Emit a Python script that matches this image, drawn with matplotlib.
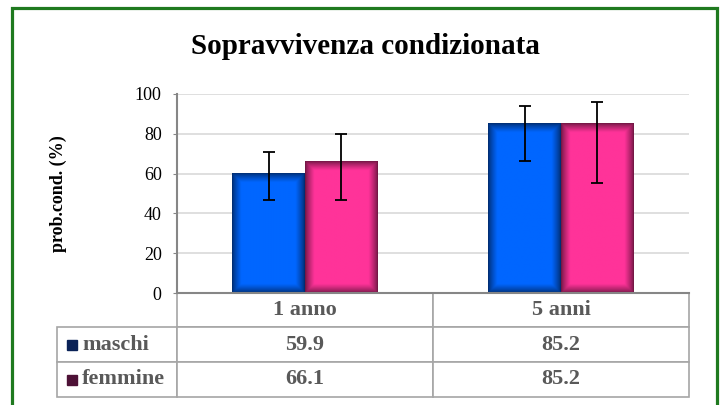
import numpy as np
import matplotlib.pyplot as plt
from matplotlib.patches import Rectangle
from matplotlib.table import Table

plt.rcParams['font.family'] = ['Liberation Serif', 'DejaVu Serif']

categories = ['1 anno', '5 anni']
series = ['maschi', 'femmine']
maschi = [59.9, 85.2]
femmine = [66.1, 85.2]
# limiti delle barre d'errore
maschi_low = [46.7, 66.4]
maschi_high = [70.9, 93.8]
femmine_low = [46.7, 55.3]
femmine_high = [79.9, 95.8]

bar_colors = ['#0066FF', '#FF3399']
legend_colors = ['#0A2257', '#4D1136']
text_gray = '#595959'
line_gray = '#A6A6A6'


def shade_bar(ax, rect, color):
    """Riempie la barra con un gradiente scuro ai bordi."""
    x0, y0 = rect.get_x(), rect.get_y()
    w, h = rect.get_width(), rect.get_height()
    u = np.linspace(0, 1, 80)
    v = np.linspace(0, 1, 300)
    U, V = np.meshgrid(u, v)
    dx = np.minimum(U, 1 - U) * w * 256
    dy = np.minimum(V, 1 - V) * h * 1.99
    d = np.minimum(dx, dy)
    f = 0.45 + 0.55 * np.clip(d / 9.0, 0, 1) ** 0.8
    base = np.array(plt.matplotlib.colors.to_rgb(color))
    img = base[None, None, :] * f[:, :, None]
    ax.imshow(img, origin='lower', extent=[x0, x0 + w, y0, y0 + h],
              aspect='auto', interpolation='bilinear', zorder=2)
    rect.set_visible(False)


fig = plt.figure(figsize=(7.24, 4.05), dpi=100)
ax = fig.add_axes([177 / 724, 1 - 293 / 405, 512 / 724, 199 / 405])

x = np.arange(len(categories))
width = 0.285

bars1 = ax.bar(x - width / 2, maschi, width=width, color=bar_colors[0])
bars2 = ax.bar(x + width / 2, femmine, width=width, color=bar_colors[1])
for rect in bars1:
    shade_bar(ax, rect, bar_colors[0])
for rect in bars2:
    shade_bar(ax, rect, bar_colors[1])

err1 = [np.subtract(maschi, maschi_low), np.subtract(maschi_high, maschi)]
err2 = [np.subtract(femmine, femmine_low), np.subtract(femmine_high, femmine)]
ax.errorbar(x - width / 2, maschi, yerr=err1, fmt='none', ecolor='black',
            elinewidth=1.3, capsize=4, capthick=1.3, zorder=3)
ax.errorbar(x + width / 2, femmine, yerr=err2, fmt='none', ecolor='black',
            elinewidth=1.3, capsize=4, capthick=1.3, zorder=3)

ax.set_xlim(-0.5, 1.5)
ax.set_ylim(0, 100)
ax.set_yticks(np.arange(0, 101, 20))
ax.set_xticks([])
ax.yaxis.grid(True, color='#D9D9D9', lw=1.2)
ax.set_axisbelow(True)
for s in ['top', 'right']:
    ax.spines[s].set_visible(False)
for s in ['left', 'bottom']:
    ax.spines[s].set_color('#868686')
    ax.spines[s].set_linewidth(1.5)
ax.tick_params(axis='y', length=3, color='#868686', labelsize=13, pad=8)

# tabella dati sotto il grafico
tb = Table(ax, bbox=[-120 / 512, -104 / 199, 632 / 512, 104 / 199])
col_w = [120, 256, 256]
row_h = [34, 35, 35]
rows = [[''] + categories,
        [series[0]] + [f'{v:.1f}' for v in maschi],
        [series[1]] + [f'{v:.1f}' for v in femmine]]
for i, row in enumerate(rows):
    for j, txt in enumerate(row):
        loc = 'left' if j == 0 else 'center'
        cell = tb.add_cell(i, j, col_w[j], row_h[i], text=txt, loc=loc,
                           edgecolor=line_gray)
        cell.set_linewidth(1.2)
        cell.get_text().set_fontweight('bold')
        cell.get_text().set_color(text_gray)
        if j == 0:
            cell.PAD = 25 / 120
        if i == 0 and j == 0:
            cell.visible_edges = ''
tb.auto_set_font_size(False)
tb.set_fontsize(16)
ax.add_table(tb)

for k, yc in enumerate([-0.259, -0.435]):
    ax.plot([-0.206], [yc], marker='s', markersize=7.5, color=legend_colors[k],
            transform=ax.transAxes, clip_on=False)

fig.text(365 / 724, 1 - 46 / 405, 'Sopravvivenza condizionata',
         ha='center', va='center', fontsize=21, fontweight='bold')
fig.text(58 / 724, 1 - 194 / 405, 'prob.cond. (%)', rotation=90,
         ha='center', va='center', fontsize=13, fontweight='bold')

# cornice verde
fig.patches.append(Rectangle((12 / 724, -0.05), 705 / 724, 1.05 - 8 / 405,
                             transform=fig.transFigure, fill=False,
                             edgecolor='#1F7A1F', linewidth=2.3))

fig.savefig('out.png', dpi=100)
